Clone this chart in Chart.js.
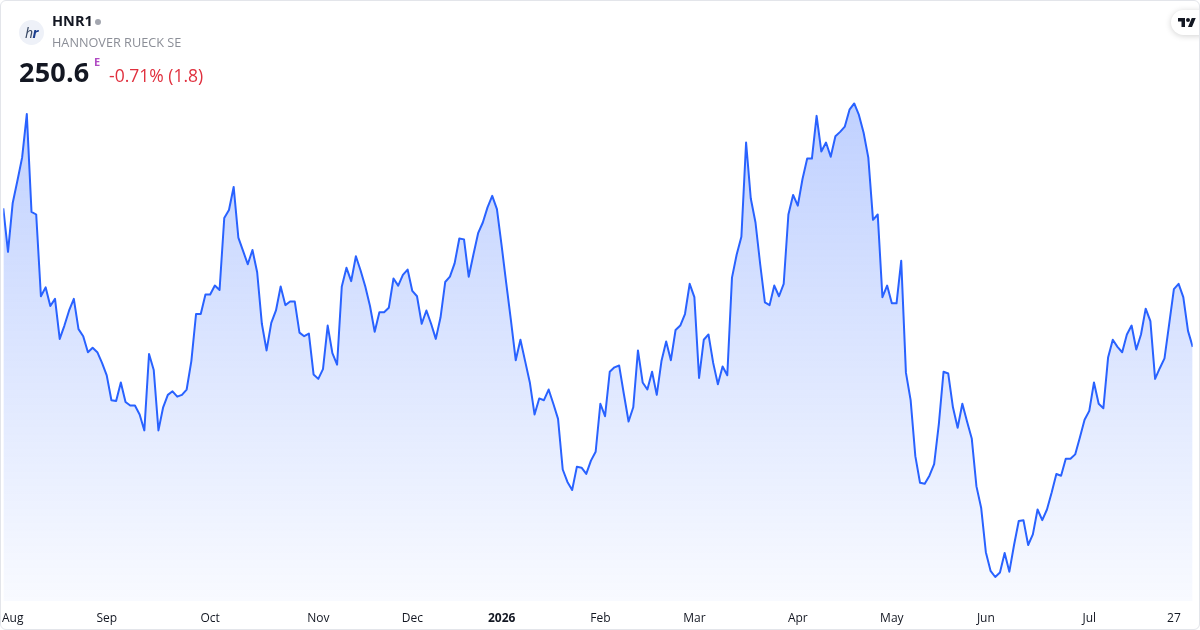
<!DOCTYPE html>
<html>
<head>
<meta charset="utf-8">
<script src="https://cdn.jsdelivr.net/npm/chart.js@4.4.1/dist/chart.umd.min.js"></script>
<style>
  html,body{margin:0;padding:0;background:#fff;}
  #card{position:absolute;left:0;top:0;width:1200px;height:630px;box-sizing:border-box;border:1px solid #e3e5ea;border-radius:6px;overflow:hidden;background:#fff;font-family:"Open Sans",sans-serif;}
  #c{position:absolute;left:0;top:0;}
  .abs{position:absolute;white-space:nowrap;}
  #logo{left:18px;top:19px;width:25px;height:25px;border-radius:50%;background:#eef1f8;font-style:italic;font-size:14px;line-height:25px;text-align:center;font-family:"Noto Sans",sans-serif;letter-spacing:-0.5px;}
  #sym{left:51px;top:10px;font-size:14.5px;font-weight:700;color:#131722;}
  #dot{left:94px;top:18px;width:6px;height:6px;border-radius:50%;background:#a3a6af;}
  #name{left:51px;top:32px;font-size:12.7px;color:#8b8e97;}
  #price{left:18px;top:52px;font-size:27px;font-weight:700;color:#131722;letter-spacing:0.2px;}
  #e{left:93px;top:53px;font-size:11px;font-weight:700;color:#b04ac3;}
  #chg{left:108px;top:62px;font-size:17.5px;color:#e0303e;}
  #tv{left:1170px;top:9px;width:40px;height:25px;border-radius:13px;background:#fff;box-shadow:0 1px 6px rgba(0,0,0,0.18);}
</style>
</head>
<body>
<div id="card">
  <canvas id="c" width="1200" height="630"></canvas>
  <div id="logo" class="abs"><span style="color:#3a4a66">h</span><span style="color:#1c3f8f;font-weight:700">r</span></div>
  <div id="sym" class="abs">HNR1</div>
  <div id="dot" class="abs"></div>
  <div id="name" class="abs">HANNOVER RUECK SE</div>
  <div id="price" class="abs">250.6</div>
  <div id="e" class="abs">E</div>
  <div id="chg" class="abs">-0.71% (1.8)</div>
  <div id="tv" class="abs">
    <svg width="18" height="9" viewBox="0 0 36 18" style="position:absolute;left:7px;top:8px">
      <path d="M14 18H7V7H0V0h14v18z M28 18h-8l7.5-18h8L28 18z" fill="#131722"/>
      <circle cx="20" cy="4" r="4" fill="#131722"/>
    </svg>
  </div>
</div>
<script>
const prices = [
266.2,261.3,266.8,269.3,271.9,276.8,265.8,265.5,256.3,257.3,
255.2,256.0,251.5,253.0,254.7,256.0,252.6,251.8,250.0,250.5,
250.0,248.8,247.4,244.6,244.5,246.6,244.4,244.0,244.0,243.0,
241.2,249.8,248.0,241.2,243.8,245.2,245.6,245.0,245.2,245.8,
249.0,254.3,254.3,256.5,256.5,257.5,257.0,265.1,266.0,268.6,
262.9,261.4,259.9,261.5,259.0,253.2,250.2,253.3,254.7,257.4,
255.3,255.7,255.7,252.2,251.8,252.1,247.5,247.0,248.1,253.0,
249.9,248.6,257.4,259.5,258.0,260.8,259.2,257.4,255.2,252.3,
254.5,254.5,255.0,258.3,257.5,258.7,259.3,256.9,256.3,253.2,
254.7,253.2,251.5,253.9,257.9,258.5,260.0,262.8,262.7,258.5,
261.0,263.4,264.6,266.3,267.6,266.1,262.0,257.7,253.5,249.1,
251.4,249.0,246.6,243.0,244.8,244.6,245.8,244.2,242.5,236.8,
235.4,234.5,237.1,237.0,236.3,237.8,238.8,244.2,242.8,247.8,
248.3,248.5,245.3,242.2,243.8,250.2,246.6,245.8,247.8,245.2,
249.0,251.2,249.1,252.5,253.0,254.3,257.7,256.2,247.1,251.4,
252.0,248.8,246.4,248.4,247.4,258.4,261.0,263.0,273.6,267.3,
264.6,259.9,255.6,255.3,257.5,256.3,257.7,265.5,267.7,266.5,
269.5,271.8,271.8,276.6,272.6,273.6,272.0,274.3,274.8,275.4,
277.3,278.0,276.7,274.7,271.9,264.9,265.5,256.2,257.5,255.5,
255.5,260.3,247.7,244.6,238.3,235.3,235.2,236.1,237.4,241.9,
247.8,247.6,243.8,241.5,244.2,242.2,240.3,234.9,232.5,227.5,
225.4,224.7,225.2,227.4,225.3,228.3,231.0,231.1,228.3,229.5,
232.3,231.1,232.3,234.2,236.3,236.1,238.0,238.0,238.5,240.4,
242.4,243.4,246.6,244.2,243.7,249.4,251.4,250.6,250.0,252.0,
253.0,250.3,252.0,254.9,253.5,247.0,248.2,249.3,253.2,257.1,
257.7,256.2,252.4,250.6
];
const tickIndex = [2,22,44,67,87,106,127,147,169,189,209,231,249];
const tickLabels = ["Aug","Sep","Oct","Nov","Dec","2026","Feb","Mar","Apr","May","Jun","Jul","27"];
const boldLabels = ["2026"];

const points = prices.map((v,i)=>({x:i,y:v}));

new Chart(document.getElementById('c'), {
  type:'line',
  data:{datasets:[{
    data:points,
    borderColor:'#2962ff',
    borderWidth:2,
    pointRadius:0,
    tension:0,
    borderJoinStyle:'round',
    fill:'start',
    backgroundColor:(ctx)=>{
      const a = ctx.chart.chartArea;
      if(!a) return 'rgba(41,98,255,0.15)';
      const g = ctx.chart.ctx.createLinearGradient(0,a.top,0,a.bottom);
      g.addColorStop(0,'rgba(41,98,255,0.30)');
      g.addColorStop(1,'rgba(41,98,255,0.03)');
      return g;
    }
  }]},
  options:{
    responsive:false,
    animation:false,
    devicePixelRatio:1,
    layout:{padding:{left:2.3,right:8.3,top:90,bottom:5.6}},
    plugins:{legend:{display:false},tooltip:{enabled:false}},
    scales:{
      x:{
        type:'linear',min:0,max:prices.length-1,
        grid:{display:false,drawTicks:false},
        border:{display:false},
        afterBuildTicks:(s)=>{ s.ticks = tickIndex.map(v=>({value:v})); },
        afterFit:(s)=>{ s.height = 24.4; s.paddingLeft = 0; s.paddingRight = 0; },
        ticks:{
          autoSkip:false,maxRotation:0,padding:10,color:'#131722',
          font:(c)=>{
            const i = c.tick ? tickIndex.indexOf(c.tick.value) : -1;
            const b = i>=0 && boldLabels.includes(tickLabels[i]);
            return {family:'"Open Sans", sans-serif', size:12, weight: b ? 'bold' : 'normal'};
          },
          callback:(v)=>{ const i = tickIndex.indexOf(v); return i>=0 ? tickLabels[i] : ''; }
        }
      },
      y:{display:false,min:222.0,max:279.4}
    }
  }
});
</script>
</body>
</html>
